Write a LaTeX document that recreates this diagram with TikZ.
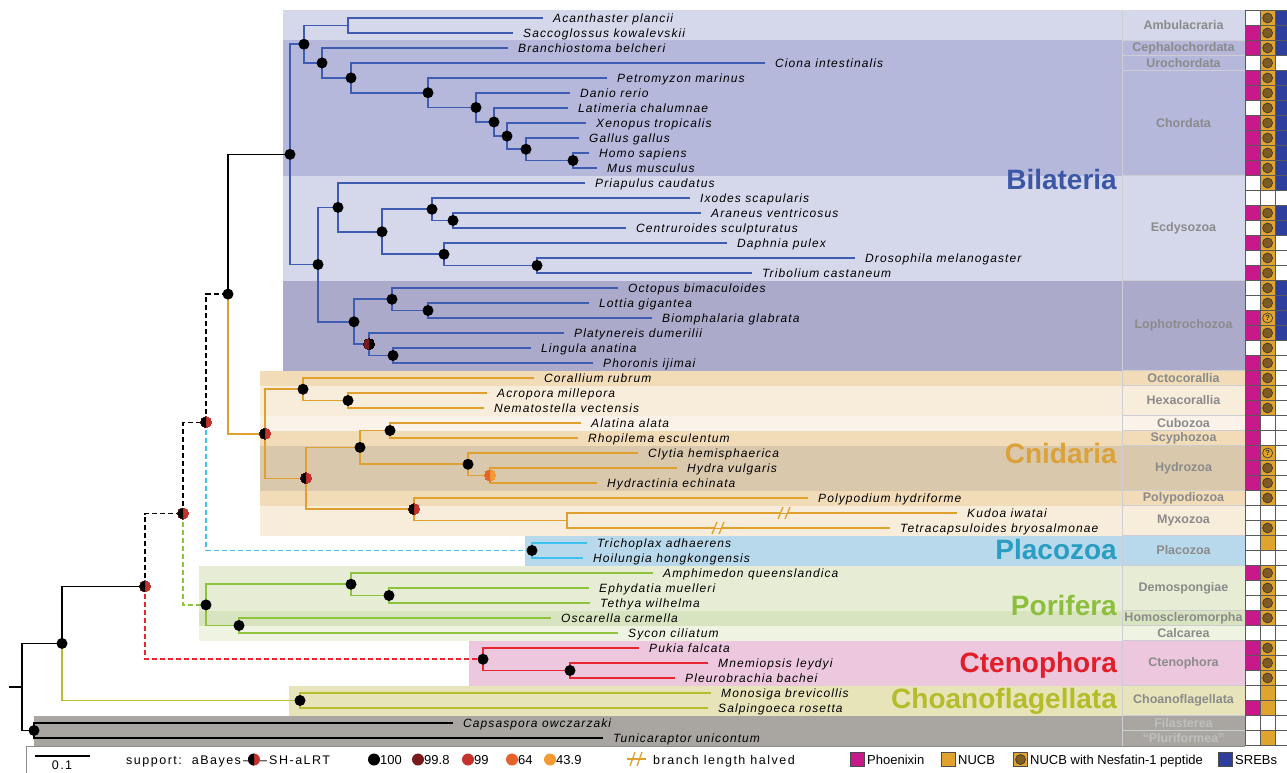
\documentclass[tikz,border=0pt]{standalone}
\usepackage{fontspec}
\setmainfont{Liberation Sans}
\newfontfamily\spfont[LetterSpace=9]{Liberation Sans}
\newfontfamily\lgfont[LetterSpace=12]{Liberation Sans}
\usetikzlibrary{calc}
\definecolor{cAmb}{HTML}{D5D8EB}
\definecolor{cChd}{HTML}{B5B7DB}
\definecolor{cLop}{HTML}{ABAACA}
\definecolor{cOct}{HTML}{F1DCB7}
\definecolor{cHex}{HTML}{F8ECDA}
\definecolor{cCub}{HTML}{FBF3E9}
\definecolor{cHyd}{HTML}{D9C8AB}
\definecolor{cPla}{HTML}{B8D9EC}
\definecolor{cDem}{HTML}{E6EDD4}
\definecolor{cHsc}{HTML}{D8E3BF}
\definecolor{cCal}{HTML}{EEF3E2}
\definecolor{cCte}{HTML}{ECC7DD}
\definecolor{cCho}{HTML}{E8E4BA}
\definecolor{cFil}{HTML}{A9A6A1}
\definecolor{tBil}{HTML}{3C57A6}
\definecolor{tCni}{HTML}{DCA23A}
\definecolor{tPla}{HTML}{2B9DC3}
\definecolor{tPor}{HTML}{8CBF3E}
\definecolor{tCte}{HTML}{E11F2B}
\definecolor{tCho}{HTML}{B5BC2B}
\definecolor{bBil}{HTML}{3D5CB2}
\definecolor{bCni}{HTML}{E0A030}
\definecolor{bPla}{HTML}{3EC1EF}
\definecolor{bPor}{HTML}{8DC33D}
\definecolor{bCte}{HTML}{E8262F}
\definecolor{bCho}{HTML}{B7BE2D}
\definecolor{sA}{HTML}{7B1A1A}
\definecolor{sB}{HTML}{C3322C}
\definecolor{sC}{HTML}{E8602A}
\definecolor{sD}{HTML}{F49A32}
\definecolor{cPhx}{HTML}{C8198A}
\definecolor{cNuc}{HTML}{E0A32E}
\definecolor{cSrb}{HTML}{2D3E9C}
\definecolor{cNes}{HTML}{7D5B22}
\definecolor{grpT}{HTML}{8B8B8B}
\definecolor{sepC}{HTML}{CDCDD3}
\newcommand{\spf}{\spfont\itshape\fontsize{12}{13}\selectfont}
\newcommand{\supdot}[2]{\fill[#2] (#1) circle[radius=5.5pt];}
\newcommand{\halfsup}[3]{\fill[#3] (#1) circle[radius=5.5pt];
  \fill[#2] ([yshift=5.5pt]#1) arc[start angle=90,end angle=270,radius=5.5pt] -- cycle;}
\tikzset{
  br/.style={line width=1.6pt},
  brK/.style={br,black},
  brBil/.style={br,bBil},
  brCni/.style={br,bCni},
  brPla/.style={br,bPla},
  brPor/.style={br,bPor},
  brCte/.style={br,bCte},
  brCho/.style={br,bCho},
  dsh/.style={dash pattern=on 5pt off 3pt},
  sp/.style={anchor=base west,inner sep=0pt,font=\spf},
  grp/.style={anchor=center,inner sep=0pt,text=grpT,font=\fontsize{12.5}{14}\selectfont\bfseries},
  big/.style={anchor=base east,inner sep=0pt,font=\fontsize{28}{30}\selectfont\bfseries},
  lg/.style={anchor=base west,inner sep=0pt,font=\fontsize{13}{15}\selectfont},
  lgs/.style={anchor=base west,inner sep=0pt,font=\lgfont\fontsize{12.5}{15}\selectfont},
  gridl/.style={draw=black!65,line width=0.8pt},
  sq/.style={draw=black!70,line width=0.8pt,minimum size=14pt,inner sep=0pt},
}
\begin{document}
\begin{tikzpicture}[x=1pt,y=-1pt]
\useasboundingbox (0,0) rectangle (1287,773);
% ---------- bands
\fill[cAmb] (283,10.5) rectangle (1245,40.5);
\fill[cChd] (283,40.5) rectangle (1245,175.5);
\fill[cAmb] (283,175.5) rectangle (1245,280.5);
\fill[cLop] (283,280.5) rectangle (1245,370.5);
\fill[cOct] (260,370.5) rectangle (1245,385.5);
\fill[cHex] (260,385.5) rectangle (1245,415.5);
\fill[cCub] (260,415.5) rectangle (1245,430.5);
\fill[cOct] (260,430.5) rectangle (1245,445.5);
\fill[cHyd] (260,445.5) rectangle (1245,490.5);
\fill[cOct] (260,490.5) rectangle (1245,505.5);
\fill[cHex] (260,505.5) rectangle (1245,535.5);
\fill[cPla] (525,535.5) rectangle (1245,565.5);
\fill[cDem] (199,565.5) rectangle (1245,610.5);
\fill[cHsc] (199,610.5) rectangle (1245,625.5);
\fill[cCal] (199,625.5) rectangle (1245,640.5);
\fill[cCte] (469,640.5) rectangle (1245,685.5);
\fill[cCho] (289,685.5) rectangle (1245,715.5);
\fill[cFil] (34,715.5) rectangle (1245,745.5);
% ---------- group column separators
\draw[sepC,line width=1pt] (1122,10.5) -- (1122,745.5);
\foreach \yy in {40.5,55.5,70.5,175.5,280.5,370.5,385.5,415.5,430.5,445.5,490.5,505.5,535.5,565.5,610.5,625.5,640.5,685.5,715.5,730.5}
  \draw[sepC,line width=1pt] (1122,\yy) -- (1245,\yy);
% ---------- group labels
\foreach \yy/\t in {25.5/Ambulacraria,48/Cephalochordata,63/Urochordata,123/Chordata,228/Ecdysozoa,325.5/Lophotrochozoa,378/Octocorallia,400.5/Hexacorallia,423/Cubozoa,438/Scyphozoa,468/Hydrozoa,498/Polypodiozoa,520.5/Myxozoa,550.5/Placozoa,588/Demospongiae,618/Homoscleromorpha,633/Calcarea,663/Ctenophora,700.5/Choanoflagellata}
  \node[grp] (g\t) at (1183.5,\yy) {\t};
\node[grp,text=black!25] (gFil) at (1183.5,723) {Filasterea};
\node[grp,text=black!25] (gPlu) at (1183.5,738) {``Pluriformea''};
% ---------- presence grid
\fill[white] (1245.5,10.5) rectangle (1290,745.5);
\foreach \i in {2,3,5,6,8,9,10,11,14,16,18,21,22,24,25,26,27,28,29,30,31,32,38,41,43,44,47}
  \fill[cPhx] (1245.5,{15*\i-4.5}) rectangle (1260.3,{15*\i+10.5});
\foreach \i in {1,2,3,4,5,6,7,8,9,10,11,12,14,15,16,17,18,19,20,21,22,23,24,25,26,27,30,31,32,33,35,36,38,39,40,41,43,44,45,46,47,49}
  \fill[cNuc] (1260.3,{15*\i-4.5}) rectangle (1275,{15*\i+10.5});
\foreach \i in {1,2,3,5,6,7,8,9,10,11,12,14,15,19,20,21,22}
  \fill[cSrb] (1275,{15*\i-4.5}) rectangle (1290,{15*\i+10.5});
\foreach \i in {0,...,49}
  \draw[gridl] (1245.5,{15*\i+10.5}) -- (1290,{15*\i+10.5});
\foreach \xx in {1245.5,1260.3,1275}
  \draw[gridl] (\xx,10.5) -- (\xx,745.5);
\foreach \i in {1,2,3,4,5,6,7,8,9,10,11,12,14,15,16,17,18,19,20,22,23,24,25,26,27,31,32,33,35,38,39,40,41,43,44,45}
  \filldraw[fill=cNes,draw=black!80,line width=0.6pt] (1267.6,{15*\i+3}) circle[radius=5pt];
\foreach \i in {21,30}{
  \draw[black!80,line width=0.6pt] (1267.6,{15*\i+3}) circle[radius=5pt];
  \node[inner sep=0pt,font=\fontsize{7.5}{8}\selectfont\bfseries,text=black!80] (q\i) at (1267.6,{15*\i+3}) {?};}
% ---------- big clade labels
\node[big,text=tBil] (Lbil) at (1117,189) {Bilateria};
\node[big,text=tCni] (Lcni) at (1117,463) {Cnidaria};
\node[big,text=tPla] (Lpla) at (1117,559) {Placozoa};
\node[big,text=tPor] (Lpor) at (1117,615) {Porifera};
\node[big,text=tCte] (Lcte) at (1117,672) {Ctenophora};
\node[big,text=tCho] (Lcho) at (1117,708) {Choanoflagellata};
% ---------- internal nodes
\coordinate (s0) at (9,687);
\coordinate (r0) at (22,687);
\coordinate (nA) at (62,643.45);
\coordinate (nFil) at (34,730.5);
\coordinate (nCho) at (300,700.5);
\coordinate (nB) at (145,586.4);
\coordinate (nC) at (183,513.6);
\coordinate (nD) at (206,422.3);
\coordinate (nPor) at (206,604.9);
\coordinate (nDem) at (351,584.25);
\coordinate (nEph) at (389,595.5);
\coordinate (nHsc) at (239,625.5);
\coordinate (nPla) at (532,550.5);
\coordinate (nCte) at (483,659.25);
\coordinate (nMne) at (570,670.5);
\coordinate (nE) at (228,294.1);
\coordinate (nBil) at (290,154.35);
\coordinate (nG) at (304,44.2);
\coordinate (nAmb) at (348,25.5);
\coordinate (nH) at (322,62.9);
\coordinate (nI) at (351,77.9);
\coordinate (nJ) at (428,92.75);
\coordinate (nK) at (476,107.5);
\coordinate (nL) at (494,122);
\coordinate (nM) at (507,136.1);
\coordinate (nN) at (526,149.25);
\coordinate (nO) at (573,160.5);
\coordinate (nF) at (318,264.5);
\coordinate (nP) at (338,207.4);
\coordinate (nR) at (382,231.75);
\coordinate (nS) at (432,209.25);
\coordinate (nU) at (453,220.5);
\coordinate (nT) at (444,254.25);
\coordinate (nV) at (537,265.5);
\coordinate (nQ) at (354,321.75);
\coordinate (nW) at (392,299.25);
\coordinate (nY) at (428,310.5);
\coordinate (nX) at (369,344.25);
\coordinate (nZ) at (393,355.5);
\coordinate (nCni) at (265,433.8);
\coordinate (nAA) at (303,389.25);
\coordinate (nAC) at (348,400.5);
\coordinate (nAB) at (306,478.3);
\coordinate (nAD) at (360,447.4);
\coordinate (nAF) at (390,430.5);
\coordinate (nAG) at (468,464.25);
\coordinate (nAH) at (490,475.5);
\coordinate (nAE) at (414,509.25);
\coordinate (nAI) at (567,520.5);
% ---------- tips
\foreach \i/\xx/\t in {1/553/Acanthaster plancii,2/523/Saccoglossus kowalevskii,3/518/Branchiostoma belcheri,4/775/Ciona intestinalis,5/617/Petromyzon marinus,6/580/Danio rerio,7/578/Latimeria chalumnae,8/596/Xenopus tropicalis,9/589/Gallus gallus,10/599/Homo sapiens,11/607/Mus musculus,12/595/Priapulus caudatus,13/700/Ixodes scapularis,14/711/Araneus ventricosus,15/636/Centruroides sculpturatus,16/737/Daphnia pulex,17/865/Drosophila melanogaster,18/762/Tribolium castaneum,19/628/Octopus bimaculoides,20/599/Lottia gigantea,21/662/Biomphalaria glabrata,22/574/Platynereis dumerilii,23/541/Lingula anatina,24/603/Phoronis ijimai,25/544/Corallium rubrum,26/497/Acropora millepora,27/494/Nematostella vectensis,28/591/Alatina alata,29/588/Rhopilema esculentum,30/648/Clytia hemisphaerica,31/687/Hydra vulgaris,32/607/Hydractinia echinata,33/818/Polypodium hydriforme,34/967/Kudoa iwatai,35/900/Tetracapsuloides bryosalmonae,36/597/Trichoplax adhaerens,37/593/Hoilungia hongkongensis,38/663/Amphimedon queenslandica,39/599/Ephydatia muelleri,40/600/Tethya wilhelma,41/561/Oscarella carmella,42/628/Sycon ciliatum,43/649/Pukia falcata,44/718/Mnemiopsis leydyi,45/685/Pleurobrachia bachei,46/721/Monosiga brevicollis,47/718/Salpingoeca rosetta,48/463/Capsaspora owczarzaki,49/613/Tunicaraptor unicontum}{
  \coordinate (e\i) at (\xx-10,{15*\i+3});
  \node[sp] (t\i) at (\xx,{15*\i+7.4}) {\t};}
% ---------- backbone
\draw[brK] (s0) -- (r0);
\draw[brK] (r0) |- (nA);
\draw[brK] (r0) |- (nFil);
\draw[brK] (nA) |- (nB);
\draw[brCho] (nA) |- (nCho);
\draw[brK,dsh] (nB) |- (nC);
\draw[brCte,dsh] (nB) |- (nCte);
\draw[brK,dsh] (nC) |- (nD);
\draw[brPor,dsh] (nC) |- (nPor);
\draw[brK,dsh] (nD) |- (nE);
\draw[brPla,dsh] (nD) |- (nPla);
\draw[brK] (nE) |- (nBil);
\draw[brCni] (nE) |- (nCni);
% ---------- Bilateria
\foreach \p/\c in {nBil/nG,nBil/nF,nG/nAmb,nG/nH,nH/nI,nI/nJ,nJ/nK,nK/nL,nL/nM,nM/nN,nN/nO,nF/nP,nF/nQ,nP/nR,nR/nS,nR/nT,nS/nU,nT/nV,nQ/nW,nQ/nX,nW/nY,nX/nZ}
  \draw[brBil] (\p) |- (\c);
\foreach \p/\c in {nAmb/1,nAmb/2,nH/3,nI/4,nJ/5,nK/6,nL/7,nM/8,nN/9,nO/10,nO/11,nP/12,nS/13,nU/14,nU/15,nT/16,nV/17,nV/18,nW/19,nY/20,nY/21,nX/22,nZ/23,nZ/24}
  \draw[brBil] (\p) |- (e\c);
% ---------- Cnidaria
\foreach \p/\c in {nCni/nAA,nCni/nAB,nAA/nAC,nAB/nAD,nAB/nAE,nAD/nAF,nAD/nAG,nAG/nAH,nAE/nAI}
  \draw[brCni] (\p) |- (\c);
\foreach \p/\c in {nAA/25,nAC/26,nAC/27,nAF/28,nAF/29,nAG/30,nAH/31,nAH/32,nAE/33,nAI/34,nAI/35}
  \draw[brCni] (\p) |- (e\c);
% branch-halved marks
\coordinate (k1) at (784,513);
\coordinate (k2) at (718,528);
\foreach \k in {k1,k2}{
  \fill[cHex] ([xshift=-4pt]\k) rectangle ([xshift=4pt,yshift=1pt]\k);
  \draw[bCni,line width=1.3pt] ([xshift=-6pt,yshift=-6pt]\k) -- ([xshift=-1pt,yshift=6pt]\k);
  \draw[bCni,line width=1.3pt] ([xshift=1pt,yshift=-6pt]\k) -- ([xshift=6pt,yshift=6pt]\k);}
% ---------- other clades
\draw[brPla] (nPla) |- (e36);
\draw[brPla] (nPla) |- (e37);
\foreach \p/\c in {nPor/nDem,nPor/nHsc,nDem/nEph}
  \draw[brPor] (\p) |- (\c);
\foreach \p/\c in {nDem/38,nEph/39,nEph/40,nHsc/41,nHsc/42}
  \draw[brPor] (\p) |- (e\c);
\draw[brCte] (nCte) |- (nMne);
\foreach \p/\c in {nCte/43,nMne/44,nMne/45}
  \draw[brCte] (\p) |- (e\c);
\draw[brCho] (nCho) |- (e46);
\draw[brCho] (nCho) |- (e47);
\draw[brK] (nFil) |- (e48);
\draw[brK] (nFil) |- (e49);
% ---------- support dots
\foreach \n in {nA,nFil,nCho,nE,nPla,nPor,nDem,nEph,nHsc,nCte,nMne,nBil,nG,nH,nI,nJ,nK,nL,nM,nN,nO,nF,nP,nR,nS,nU,nT,nV,nQ,nW,nY,nZ,nAA,nAC,nAD,nAF,nAG}
  \supdot{\n}{black}
\foreach \n in {nB,nC,nD,nCni,nAB,nAE}
  \halfsup{\n}{black}{sB}
\halfsup{nX}{sA}{black}
\halfsup{nAH}{sC}{sD}
% ---------- legend
\draw[black!45,line width=0.8pt] (26,775) -- (26,746) -- (1245,746);
\coordinate (sb1) at (35,756);
\coordinate (sb2) at (90,756);
\draw[black,line width=1.2pt] (sb1) -- (sb2);
\node[lgs,anchor=base] (sbl) at (62,769) {0.1};
\node[lgs] (lsup) at (126,764) {support:\ \ aBayes\,–};
\coordinate (ld0) at (254,759.5);
\fill[sB] (ld0) circle[radius=6pt];
\fill[black] ([yshift=6pt]ld0) arc[start angle=90,end angle=270,radius=6pt] -- cycle;
\node[lgs] (lsh) at (260,764) {–\,SH-aLRT};
\foreach \j/\xx/\c/\t in {1/374/black/100,2/418/sA/99.8,3/468/sB/99,4/512/sC/64,5/550/sD/43.9}{
  \coordinate (ld\j) at (\xx,759.5);
  \fill[\c] (ld\j) circle[radius=6pt];
  \node[lg] (lt\j) at (\xx+6,764) {\t};}
\coordinate (bk1) at (627,759);
\coordinate (bk2) at (646,759);
\draw[bCni,line width=1.3pt] (bk1) -- (bk2);
\draw[bCni,line width=1.3pt] (630,766) -- (635,752);
\draw[bCni,line width=1.3pt] (637,766) -- (642,752);
\node[lgs] (lbk) at (653,764) {branch length halved};
\node[sq,fill=cPhx] (q1) at (857.5,759.5) {};
\node[lg] (l1) at (867,764) {Phoenixin};
\node[sq,fill=cNuc] (q2) at (948.5,759.5) {};
\node[lg] (l2) at (958,764) {NUCB};
\node[sq,fill=cNuc] (q3) at (1020.5,759.5) {};
\filldraw[fill=cNes,draw=black!80,line width=0.6pt] (q3) circle[radius=5pt];
\node[lg] (l3) at (1030,764) {NUCB with Nesfatin-1 peptide};
\node[sq,fill=cSrb] (q4) at (1225.5,759.5) {};
\node[lg] (l4) at (1235,764) {SREBs};
\end{tikzpicture}
\end{document}
